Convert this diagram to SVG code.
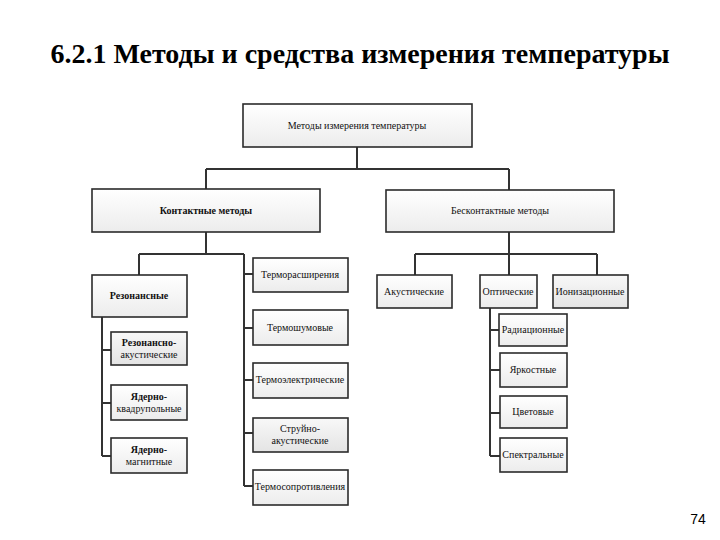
<svg xmlns="http://www.w3.org/2000/svg" width="720" height="540" viewBox="0 0 720 540">
<defs>
<linearGradient id="g" x1="0" y1="0" x2="0" y2="1">
<stop offset="0" stop-color="#ffffff"/>
<stop offset="1" stop-color="#ececec"/>
</linearGradient>
<linearGradient id="g2" x1="0" y1="0" x2="0" y2="1">
<stop offset="0" stop-color="#f8f8f8"/>
<stop offset="1" stop-color="#e4e4e4"/>
</linearGradient>
</defs>
<style>
.b{fill:url(#g);stroke:#2b2b2b;stroke-width:1.6}
.b2{fill:url(#g2);stroke:#2b2b2b;stroke-width:1.6}
.t{font-family:"Liberation Serif","Times New Roman",serif;font-size:10px;fill:#111;text-anchor:middle}
.tb{font-weight:bold}
.c{fill:none;stroke:#333;stroke-width:2}
.title{font-family:"Liberation Serif","Times New Roman",serif;font-size:28px;font-weight:bold;fill:#000;text-anchor:middle}
.pg{font-family:"Liberation Sans",Arial,sans-serif;font-size:14px;fill:#000;text-anchor:middle}
</style>
<rect width="720" height="540" fill="#fff"/>
<text class="title" x="360" y="63">6.2.1 Методы и средства измерения температуры</text>
<text class="pg" x="698" y="524">74</text>

<g id="connectors">
<path class="c" d="M357 147V169M206 169H509M206 169V189M509 169V190"/>
<path class="c" d="M206 232V254M139 254H244M139 254V275M244 254V486"/>
<path class="c" d="M244 274H253M244 328H253M244 380H253M244 433H253M244 486H253"/>
<path class="c" d="M102 317V456M102 350H111M102 403H111M102 456H111"/>
<path class="c" d="M509 232V254M415 254H597M415 254V275M509 254V275M597 254V275"/>
<path class="c" d="M490 308V456M490 330H499M490 370H500M490 413H500M490 456H500"/>
</g>

<g id="n-root"><rect class="b" x="243" y="104" width="229" height="43"/><text class="t" x="357" y="129">Методы измерения температуры</text></g>
<g id="n-contact"><rect class="b" x="92" y="189" width="228" height="43"/><text class="t tb" x="206" y="214">Контактные методы</text></g>
<g id="n-noncontact"><rect class="b" x="386" y="190" width="228" height="42"/><text class="t" x="500" y="214">Бесконтактные методы</text></g>

<g id="n-resonant"><rect class="b" x="92" y="275" width="95" height="42"/><text class="t tb" x="139" y="299">Резонансные</text></g>
<g id="n-res-ac"><rect class="b2" x="111" y="332" width="76" height="33"/><text class="t tb" x="149" y="346">Резонансно-</text><text class="t" x="149" y="358">акустические</text></g>
<g id="n-nqr"><rect class="b" x="111" y="385" width="76" height="35"/><text class="t tb" x="149" y="400">Ядерно-</text><text class="t" x="149" y="412">квадрупольные</text></g>
<g id="n-nmr"><rect class="b" x="111" y="438" width="76" height="35"/><text class="t tb" x="149" y="453">Ядерно-</text><text class="t" x="149" y="465">магнитные</text></g>

<g id="n-exp"><rect class="b" x="253" y="258" width="95" height="34"/><text class="t" x="300" y="278">Терморасширения</text></g>
<g id="n-noise"><rect class="b" x="253" y="310" width="95" height="35"/><text class="t" x="300" y="331">Термошумовые</text></g>
<g id="n-tec"><rect class="b" x="253" y="363" width="95" height="35"/><text class="t" x="300" y="383">Термоэлектрические</text></g>
<g id="n-jet"><rect class="b2" x="253" y="418" width="95" height="34"/><text class="t" x="300" y="432">Струйно-</text><text class="t" x="300" y="444">акустические</text></g>
<g id="n-res"><rect class="b" x="253" y="470" width="95" height="35"/><text class="t" x="300" y="490">Термосопротивления</text></g>

<g id="n-acoustic"><rect class="b" x="377" y="275" width="75" height="33"/><text class="t" x="414" y="295">Акустические</text></g>
<g id="n-optical"><rect class="b" x="480" y="275" width="57" height="33"/><text class="t" x="508" y="295">Оптические</text></g>
<g id="n-ion"><rect class="b2" x="553" y="275" width="75" height="33"/><text class="t" x="590" y="295">Ионизационные</text></g>

<g id="n-rad"><rect class="b" x="499" y="314" width="68" height="32"/><text class="t" x="533" y="333">Радиационные</text></g>
<g id="n-bright"><rect class="b" x="500" y="353" width="67" height="34"/><text class="t" x="533" y="373">Яркостные</text></g>
<g id="n-color"><rect class="b" x="500" y="396" width="67" height="32"/><text class="t" x="533" y="415">Цветовые</text></g>
<g id="n-spec"><rect class="b" x="500" y="438" width="67" height="34"/><text class="t" x="533" y="458">Спектральные</text></g>
</svg>
